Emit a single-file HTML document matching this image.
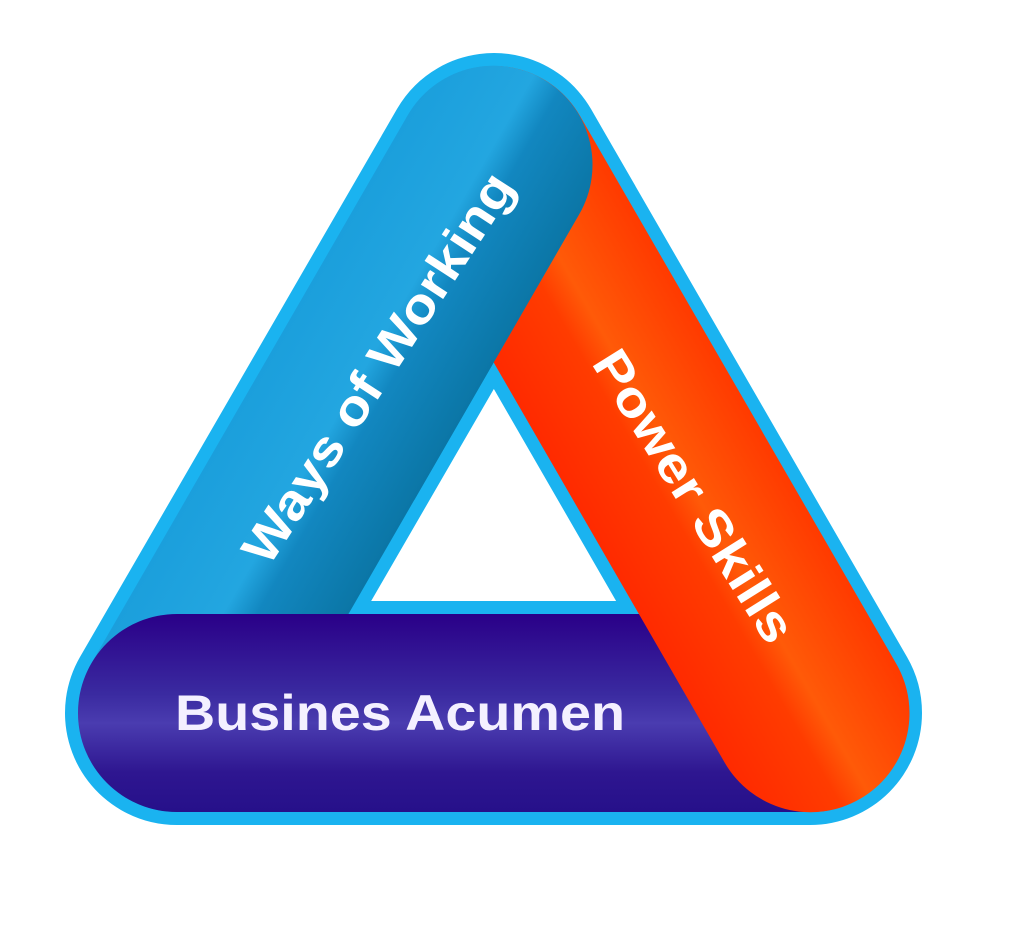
<!DOCTYPE html>
<html><head><meta charset="utf-8"><style>html,body{margin:0;padding:0;background:#fff}svg{display:block}</style></head>
<body>
<svg width="1024" height="942" viewBox="0 0 1024 942" xmlns="http://www.w3.org/2000/svg">
<defs>
<linearGradient id="gb" gradientUnits="userSpaceOnUse" x1="0" y1="-99" x2="0" y2="99">
<stop offset="0" stop-color="#1b9fdc"/><stop offset="0.45" stop-color="#23a6e0"/><stop offset="0.6" stop-color="#1287c0"/><stop offset="1" stop-color="#0b76a6"/>
</linearGradient>
<linearGradient id="gr" gradientUnits="userSpaceOnUse" x1="0" y1="-99" x2="0" y2="99">
<stop offset="0" stop-color="#ff3a00"/><stop offset="0.45" stop-color="#ff5a08"/><stop offset="0.6" stop-color="#ff3c00"/><stop offset="1" stop-color="#ff2a00"/>
</linearGradient>
<linearGradient id="gp" gradientUnits="userSpaceOnUse" x1="0" y1="615" x2="0" y2="812">
<stop offset="0" stop-color="#2a0088"/><stop offset="0.4" stop-color="#3a2aa0"/><stop offset="0.55" stop-color="#4a3cb0"/><stop offset="0.8" stop-color="#2e1690"/><stop offset="1" stop-color="#26108a"/>
</linearGradient>
<clipPath id="top"><rect x="0" y="0" width="1024" height="500"/></clipPath>
</defs>
<path d="M494,165 L177,713 L810,713 Z" fill="#fff" stroke="#1ab3f0" stroke-width="224" stroke-linejoin="round"/>
<g transform="translate(177,713) rotate(-60)">
<line x1="0" y1="0" x2="633" y2="0" stroke="url(#gb)" stroke-width="198" stroke-linecap="round"/>
</g>
<line x1="177" y1="713" x2="810" y2="713" stroke="url(#gp)" stroke-width="198" stroke-linecap="round"/>
<g transform="translate(494,165) rotate(60)">
<line x1="0" y1="0" x2="633" y2="0" stroke="url(#gr)" stroke-width="198" stroke-linecap="round"/>
</g>
<g clip-path="url(#top)">
<g transform="translate(177,713) rotate(-60)">
<line x1="0" y1="0" x2="633" y2="0" stroke="url(#gb)" stroke-width="198" stroke-linecap="round"/>
</g>
</g>
<g font-family="Liberation Sans, sans-serif" font-weight="bold" fill="#fff">
<text x="400" y="713" font-size="50" text-anchor="middle" dominant-baseline="central" textLength="450" lengthAdjust="spacingAndGlyphs" fill="#f4f0ff">Busines Acumen</text>
<text transform="translate(378,368) rotate(-57)" font-size="50" text-anchor="middle" dominant-baseline="central" textLength="455" lengthAdjust="spacingAndGlyphs">Ways of Working</text>
<text transform="translate(694,496) rotate(58)" font-size="50" text-anchor="middle" dominant-baseline="central" textLength="335" lengthAdjust="spacingAndGlyphs">Power Skills</text>
</g>
</svg>
</body></html>
